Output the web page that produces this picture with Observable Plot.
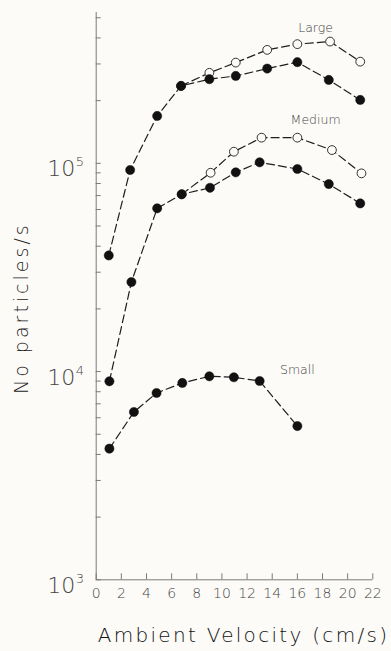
<!DOCTYPE html>
<html><head><meta charset="utf-8">
<script src="https://cdn.jsdelivr.net/npm/d3@7"></script>
<script src="https://cdn.jsdelivr.net/npm/@observablehq/plot@0.6"></script>
<style>
html,body{margin:0;padding:0;background:#fcfbf8;}
</style></head><body><div id="chart"></div>
<script>
// ---- data ----
const largeX      = [1.0, 2.7, 4.85, 6.75, 9.0, 11.1, 13.6, 16.0, 18.5, 21.0];
const largeSolid  = [36100, 92900, 168800, 235400, 253500, 262800, 285000, 306000, 251500, 201500];
const largeOpenX  = [6.75, 9.0, 11.1, 13.6, 16.0, 18.6, 21.0];
const largeOpen   = [235400, 272000, 304600, 350600, 373500, 384400, 307800];

const mediumX     = [1.05, 2.8, 4.85, 6.8, 9.05, 11.1, 13.0, 16.0, 18.5, 21.0];
const mediumSolid = [8980, 26900, 60800, 71000, 76300, 90500, 101100, 93900, 79500, 64200];
const mediumOpenX = [6.8, 9.1, 10.95, 13.15, 16.0, 18.75, 21.1];
const mediumOpen  = [71000, 90100, 113700, 132800, 132800, 115800, 89500];

const smallX      = [1.05, 3.0, 4.8, 6.85, 9.0, 10.95, 13.0, 16.0];
const smallSolid  = [4265, 6395, 7890, 8815, 9490, 9390, 9010, 5475];

const xTicks = [0, 2, 4, 6, 8, 10, 12, 14, 16, 18, 20, 22];
const yTicks = [1000, 2000, 3000, 4000, 5000, 6000, 7000, 8000, 9000,
                10000, 20000, 30000, 40000, 50000, 60000, 70000, 80000, 90000,
                100000, 200000, 300000, 400000, 500000];
const yLabelValues = [1000, 10000, 100000];
const yLabelExps = ["3", "4", "5"];

const seriesLabels = ["Large", "Medium", "Small"];
const seriesLabelX = [17.45, 17.45, 16.0];
const seriesLabelY = [447000, 161500, 10140];

const xTitle = "Ambient Velocity (cm/s)";
const yTitle = "No particles/s";

// ---- build tables ----
const pts = (xs, ys) => xs.map((x, i) => ({x, y: ys[i]}));
const lSolid = pts(largeX, largeSolid), lOpen = pts(largeOpenX, largeOpen);
const mSolid = pts(mediumX, mediumSolid), mOpen = pts(mediumOpenX, mediumOpen);
const sSolid = pts(smallX, smallSolid);
const labels = seriesLabels.map((t, i) => ({t, x: seriesLabelX[i], y: seriesLabelY[i]}));
const yLabs = yLabelValues.map((v, i) => ({v, e: yLabelExps[i]}));

const W = 391, H = 651, mL = 95.7, mR = 18.7, mT = 12, mB = 71.7;
const fw = W - mL - mR, fh = H - mT - mB;
const BG = "#fcfbf8", AX = "#7a7a7a", TXT = "#444", LINE = "#1e1e1e";
const dash = "8,4";

const lineOpts = {x: "x", y: "y", stroke: LINE, strokeWidth: 1.2, strokeDasharray: dash};
const solidDot = {x: "x", y: "y", r: 4.6, fill: "#111", stroke: "#111", strokeWidth: 0.5};
const openDot = {x: "x", y: "y", r: 4.4, fill: BG, stroke: "#333", strokeWidth: 1};
const light = {fontWeight: 300};

const chart = Plot.plot({
  width: W, height: H,
  marginLeft: mL, marginRight: mR, marginTop: mT, marginBottom: mB,
  style: {background: BG, fontFamily: "DejaVu Sans", color: TXT},
  x: {domain: [0, 22], axis: null},
  y: {type: "log", domain: [1000, 5.3e5], axis: null},
  marks: [
    Plot.ruleX([0], {stroke: AX, strokeWidth: 1}),
    Plot.ruleY([1000], {stroke: AX, strokeWidth: 1}),
    Plot.tickY(yTicks, {y: d => d, insetRight: fw - 5, stroke: AX}),
    Plot.tickX(xTicks, {x: d => d, insetTop: fh - 6, stroke: AX}),
    Plot.text(xTicks, {x: d => d, text: d => String(d), frameAnchor: "bottom", dy: 18, fontSize: 14, fill: TXT, ...light}),
    Plot.text(yLabs, {y: "v", text: () => "10", frameAnchor: "left", textAnchor: "end", dx: -21, dy: 6, fontSize: 22, fill: TXT, ...light}),
    Plot.text(yLabs, {y: "v", text: "e", frameAnchor: "left", textAnchor: "start", dx: -20.5, dy: -1, fontSize: 13, fill: TXT, ...light}),
    Plot.text([yTitle], {frameAnchor: "left", textAnchor: "middle", rotate: -90, dx: -74, dy: 12, fontSize: 19, fill: "#1a1a1a", ...light}),
    Plot.text([xTitle], {frameAnchor: "bottom", textAnchor: "middle", dx: 9, dy: 62, fontSize: 20, fill: "#111", ...light}),
    Plot.line(lOpen, lineOpts),
    Plot.line(lSolid, lineOpts),
    Plot.line(mOpen, lineOpts),
    Plot.line(mSolid, lineOpts),
    Plot.line(sSolid, lineOpts),
    Plot.dot(lOpen, openDot),
    Plot.dot(mOpen, openDot),
    Plot.dot(lSolid, solidDot),
    Plot.dot(mSolid, solidDot),
    Plot.dot(sSolid, solidDot),
    Plot.text(labels, {x: "x", y: "y", text: "t", fontSize: 12.5, fill: TXT, ...light})
  ]
});
const sel = d3.select(chart);
sel.selectAll("text").filter(function() { return this.textContent === xTitle; }).style("letter-spacing", "2.3px");
sel.selectAll("text").filter(function() { return this.textContent === yTitle; }).style("letter-spacing", "3px");
document.getElementById("chart").appendChild(chart);
</script></body></html>
